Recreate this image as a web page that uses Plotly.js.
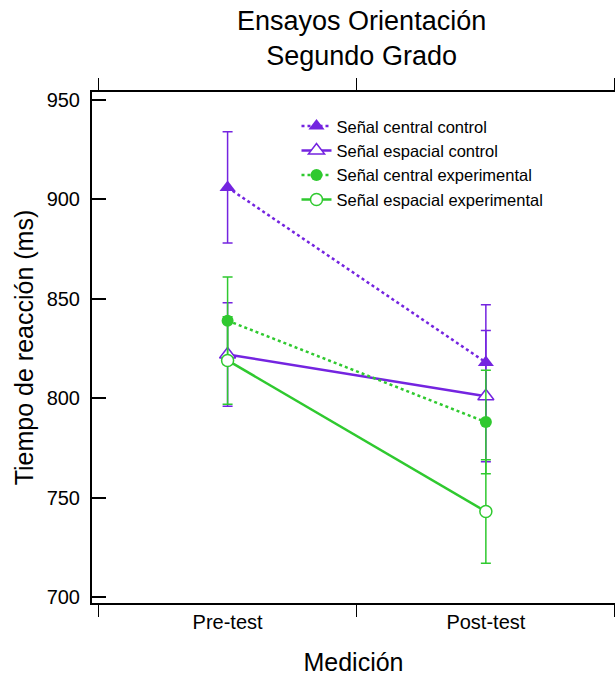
<!DOCTYPE html>
<html>
<head>
<meta charset="utf-8">
<script src="https://cdn.plot.ly/plotly-3.0.1.min.js"></script>
<style>
html, body { margin: 0; padding: 0; overflow: hidden; background: #fff; }
#chart { width: 615px; height: 677px; }
</style>
</head>
<body>
<div id="chart"></div>
<script>
// Data
var categories = ['Pre-test', 'Post-test'];
var seriesNames = ['Señal central control', 'Señal espacial control', 'Señal central experimental', 'Señal espacial experimental'];
var centralControl = [906, 818];
var centralControlErr = [28, 29];
var espacialControl = [822, 801];
var espacialControlErr = [26, 33];
var centralExperimental = [839, 788];
var centralExperimentalErr = [22, 26];
var espacialExperimental = [819, 743];
var espacialExperimentalErr = [22, 26];
var yTicks = [700, 750, 800, 850, 900, 950];

var purple = '#7424E0';
var green = '#2FC92F';
var FONT = '"Liberation Sans", Arial, Helvetica, sans-serif';

function makeTrace(name, y, err, color, dash, symbol, filled) {
  return {
    type: 'scatter',
    mode: 'lines+markers',
    name: name,
    x: categories,
    y: y,
    line: { color: color, width: 2.5, dash: dash },
    marker: {
      symbol: symbol,
      size: symbol === 'triangle-up' ? 14 : 12,
      color: filled ? color : '#ffffff',
      line: { color: color, width: filled ? 0 : 1.5 }
    },
    error_y: { type: 'data', array: err, visible: true, color: color, thickness: 1.5, width: 5 }
  };
}

var data = [
  makeTrace(seriesNames[0], centralControl, centralControlErr, purple, 'dot', 'triangle-up', true),
  makeTrace(seriesNames[1], espacialControl, espacialControlErr, purple, 'solid', 'triangle-up', false),
  makeTrace(seriesNames[2], centralExperimental, centralExperimentalErr, green, 'dot', 'circle', true),
  makeTrace(seriesNames[3], espacialExperimental, espacialExperimentalErr, green, 'solid', 'circle', false)
];

var yRange = [697, 954];

var layout = {
  width: 615,
  height: 677,
  margin: { l: 92, r: 0, t: 92, b: 74 },
  paper_bgcolor: '#ffffff',
  plot_bgcolor: '#ffffff',
  font: { family: FONT, color: '#000000' },
  title: {
    text: 'Ensayos Orientación<br>Segundo Grado',
    font: { family: FONT, size: 27, color: '#000000' },
    xref: 'container', x: 0.588, xanchor: 'center',
    yref: 'container', y: 0.956, yanchor: 'top'
  },
  showlegend: true,
  legend: {
    x: 0.391, xanchor: 'left',
    y: 0.967, yanchor: 'top',
    bgcolor: 'rgba(0,0,0,0)',
    borderwidth: 0,
    font: { family: FONT, size: 16.5, color: '#000000' }
  },
  xaxis: {
    type: 'category',
    categoryorder: 'array',
    categoryarray: categories,
    range: [-0.525, 1.5],
    tickson: 'boundaries',
    ticks: 'outside',
    ticklen: 12,
    tickwidth: 1.5,
    tickcolor: '#000000',
    showline: true,
    linewidth: 2,
    linecolor: '#000000',
    mirror: 'ticks',
    showgrid: false,
    zeroline: false,
    tickfont: { family: FONT, size: 20, color: '#000000' },
    title: { text: 'Medición', font: { family: FONT, size: 25, color: '#000000' }, standoff: 21 }
  },
  yaxis: {
    range: yRange,
    tickvals: yTicks,
    ticktext: yTicks.map(String),
    ticks: 'inside',
    ticklen: 14,
    tickwidth: 2,
    tickcolor: '#000000',
    showline: true,
    linewidth: 2,
    linecolor: '#000000',
    mirror: false,
    showgrid: false,
    zeroline: false,
    ticklabelstandoff: 6,
    tickfont: { family: FONT, size: 20, color: '#000000' },
    title: { text: 'Tiempo de reacción (ms)', font: { family: FONT, size: 25, color: '#000000' }, standoff: 6 }
  },
  yaxis2: {
    overlaying: 'y',
    side: 'right',
    range: yRange,
    tickvals: yTicks,
    ticks: 'inside',
    ticklen: 14,
    tickwidth: 2,
    tickcolor: '#000000',
    showticklabels: false,
    showline: false,
    showgrid: false,
    zeroline: false
  }
};

Plotly.newPlot('chart', data, layout, { displayModeBar: false, staticPlot: true });
</script>
</body>
</html>
